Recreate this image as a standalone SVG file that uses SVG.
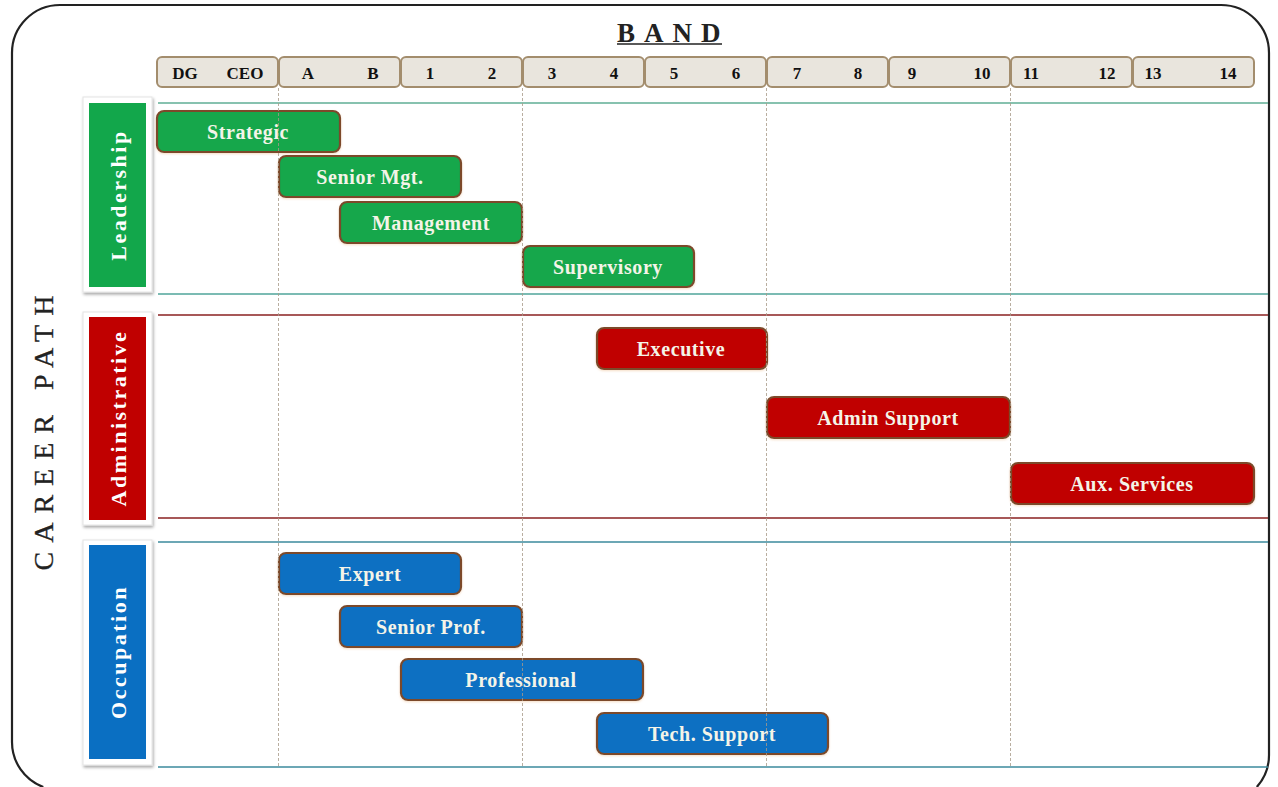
<svg xmlns="http://www.w3.org/2000/svg" width="1278" height="787" viewBox="0 0 1278 787">
<defs>
<style>
.hcell{fill:#e9e5dd;stroke:#a38d6d;stroke-width:2}
.htxt{font-family:"Liberation Serif",serif;font-weight:bold;font-size:17px;fill:#111;text-anchor:middle}
.bar{stroke:#7b4a2c;stroke-width:2.2}
.green{fill:#12a74b}
.red{fill:#c00000}
.blue{fill:#0a6fc2}
.btxt{font-family:"Liberation Serif",serif;font-weight:bold;font-size:20px;fill:#f4f4e8;text-anchor:middle;letter-spacing:0.6px}
.ltxt{font-family:"Liberation Serif",serif;font-weight:bold;font-size:22px;fill:#fff;text-anchor:middle;letter-spacing:2.5px}
.frame{fill:#fff;stroke:#e4e4e4;stroke-width:1}
.vdash{stroke:#a89a88;stroke-width:1;stroke-dasharray:3,2;fill:none;opacity:0.8}
</style>
<filter id="sh" x="-20%" y="-20%" width="140%" height="140%">
<feDropShadow dx="1" dy="2" stdDeviation="1.5" flood-color="#000" flood-opacity="0.35"/>
</filter>
<filter id="bsh" x="-10%" y="-20%" width="120%" height="150%">
<feDropShadow dx="0" dy="1" stdDeviation="1" flood-color="#f0c8a0" flood-opacity="0.6"/>
</filter>
</defs>
<rect x="0" y="0" width="1278" height="787" fill="#fff"/>
<!-- outer border -->
<path d="M43.3,787 A48,48 0 0 1 12,742 V53 A48,48 0 0 1 60,5 H1221 A48,48 0 0 1 1269,53 V755 A48,48 0 0 1 1256.8,787" fill="none" stroke="#222" stroke-width="2.2"/>

<!-- title -->
<g id="title">
<text x="617" y="42" font-family="Liberation Serif, serif" font-weight="bold" font-size="27" letter-spacing="9" fill="#222">BAND</text>
<line x1="617" y1="44" x2="722" y2="44" stroke="#222" stroke-width="1.6"/>
</g>
<g id="career-path">
<text transform="translate(53,428.5) rotate(-90)" font-family="Liberation Serif, serif" font-size="28" letter-spacing="9" fill="#222" stroke="#222" stroke-width="0.3" text-anchor="middle">CAREER PATH</text>
</g>

<!-- header cells -->
<g id="header">
<rect class="hcell" x="157" y="57" width="121" height="30" rx="5"/>
<rect class="hcell" x="279" y="57" width="121" height="30" rx="5"/>
<rect class="hcell" x="401" y="57" width="121" height="30" rx="5"/>
<rect class="hcell" x="523" y="57" width="121" height="30" rx="5"/>
<rect class="hcell" x="645" y="57" width="121" height="30" rx="5"/>
<rect class="hcell" x="767" y="57" width="121" height="30" rx="5"/>
<rect class="hcell" x="889" y="57" width="121" height="30" rx="5"/>
<rect class="hcell" x="1011" y="57" width="121" height="30" rx="5"/>
<rect class="hcell" x="1133" y="57" width="121" height="30" rx="5"/>
<text class="htxt" x="185" y="79">DG</text>
<text class="htxt" x="245" y="79">CEO</text>
<text class="htxt" x="308" y="79">A</text>
<text class="htxt" x="373" y="79">B</text>
<text class="htxt" x="430" y="79">1</text>
<text class="htxt" x="492" y="79">2</text>
<text class="htxt" x="552" y="79">3</text>
<text class="htxt" x="614" y="79">4</text>
<text class="htxt" x="674" y="79">5</text>
<text class="htxt" x="736" y="79">6</text>
<text class="htxt" x="797" y="79">7</text>
<text class="htxt" x="858" y="79">8</text>
<text class="htxt" x="912" y="79">9</text>
<text class="htxt" x="982" y="79">10</text>
<text class="htxt" x="1031" y="79">11</text>
<text class="htxt" x="1107" y="79">12</text>
<text class="htxt" x="1153" y="79">13</text>
<text class="htxt" x="1228" y="79">14</text>
</g>

<!-- section lines -->
<g id="section-lines">
<line x1="158" y1="103" x2="1268" y2="103" stroke="#5fae94" stroke-width="1.6"/>
<line x1="158" y1="294" x2="1268" y2="294" stroke="#4fa59a" stroke-width="1.4"/>
<line x1="158" y1="315" x2="1268" y2="315" stroke="#8a2020" stroke-width="1.4"/>
<line x1="158" y1="518" x2="1268" y2="518" stroke="#8a2020" stroke-width="1.4"/>
<line x1="158" y1="542" x2="1268" y2="542" stroke="#3b8a9c" stroke-width="1.4"/>
<line x1="158" y1="767" x2="1268" y2="767" stroke="#3b8a9c" stroke-width="1.6"/>
</g>

<!-- section labels -->
<g id="leadership">
<rect class="frame" x="83" y="97" width="69" height="195" filter="url(#sh)"/>
<rect class="green" x="89" y="103" width="57" height="184"/>
<text class="ltxt" transform="translate(126,195) rotate(-90)">Leadership</text>
</g>
<g id="administrative">
<rect class="frame" x="83" y="312" width="69" height="213" filter="url(#sh)"/>
<rect class="red" x="89" y="317" width="57" height="203"/>
<text class="ltxt" transform="translate(126,418) rotate(-90)">Administrative</text>
</g>
<g id="occupation">
<rect class="frame" x="83" y="540" width="69" height="225" filter="url(#sh)"/>
<rect class="blue" x="89" y="545" width="57" height="214"/>
<text class="ltxt" transform="translate(126,652) rotate(-90)">Occupation</text>
</g>

<!-- bars -->
<g id="strategic"><rect class="bar green" x="157" y="111" width="183" height="41" rx="7" filter="url(#bsh)"/><text class="btxt" x="248" y="139">Strategic</text></g>
<g id="senior-mgt"><rect class="bar green" x="279" y="156" width="182" height="41" rx="7" filter="url(#bsh)"/><text class="btxt" x="370" y="184">Senior Mgt.</text></g>
<g id="management"><rect class="bar green" x="340" y="202" width="182" height="41" rx="7" filter="url(#bsh)"/><text class="btxt" x="431" y="230">Management</text></g>
<g id="supervisory"><rect class="bar green" x="523" y="246" width="171" height="41" rx="7" filter="url(#bsh)"/><text class="btxt" x="608" y="274">Supervisory</text></g>
<g id="executive"><rect class="bar red" x="597" y="328" width="170" height="41" rx="7" filter="url(#bsh)"/><text class="btxt" x="681" y="356">Executive</text></g>
<g id="admin-support"><rect class="bar red" x="767" y="397" width="243" height="41" rx="7" filter="url(#bsh)"/><text class="btxt" x="888" y="425">Admin Support</text></g>
<g id="aux-services"><rect class="bar red" x="1011" y="463" width="243" height="41" rx="7" filter="url(#bsh)"/><text class="btxt" x="1132" y="491">Aux. Services</text></g>
<g id="expert"><rect class="bar blue" x="279" y="553" width="182" height="41" rx="7" filter="url(#bsh)"/><text class="btxt" x="370" y="581">Expert</text></g>
<g id="senior-prof"><rect class="bar blue" x="340" y="606" width="182" height="41" rx="7" filter="url(#bsh)"/><text class="btxt" x="431" y="634">Senior Prof.</text></g>
<g id="professional"><rect class="bar blue" x="401" y="659" width="242" height="41" rx="7" filter="url(#bsh)"/><text class="btxt" x="521" y="687">Professional</text></g>
<g id="tech-support"><rect class="bar blue" x="597" y="713" width="231" height="41" rx="7" filter="url(#bsh)"/><text class="btxt" x="712" y="741">Tech. Support</text></g>

<!-- connectors: dashed band dividers -->
<g id="connectors">
<line class="vdash" x1="278.5" y1="88" x2="278.5" y2="766"/>
<line class="vdash" x1="522.5" y1="88" x2="522.5" y2="766"/>
<line class="vdash" x1="766.5" y1="88" x2="766.5" y2="766"/>
<line class="vdash" x1="1010.5" y1="88" x2="1010.5" y2="766"/>
</g>
</svg>
